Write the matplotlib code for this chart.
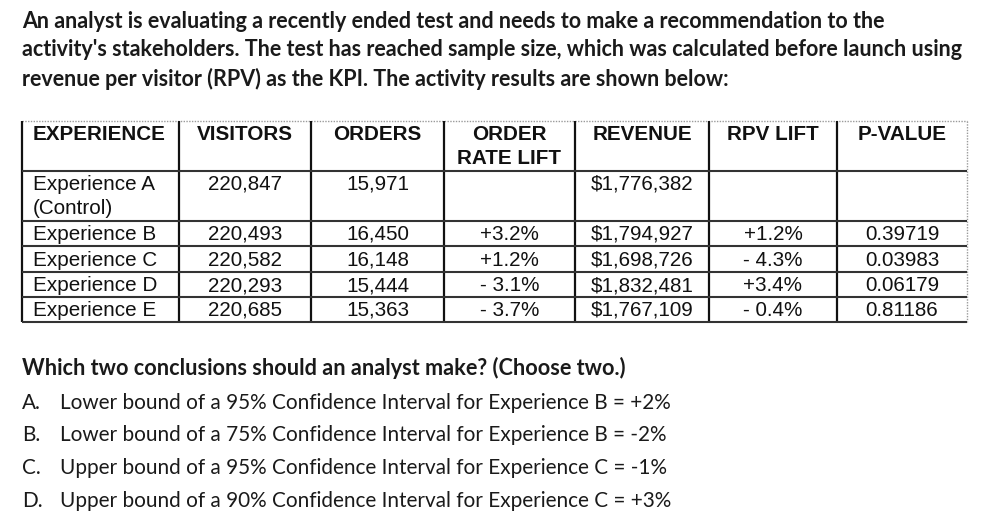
"""
Recreates the A/B test question card: intro text, results table, answer options.
Saves out.png (998x526).
"""

import matplotlib
matplotlib.use("Agg")
import matplotlib.pyplot as plt

# --- Data ---
intro_lines = [
    "An analyst is evaluating a recently ended test and needs to make a recommendation to the",
    "activity's stakeholders. The test has reached sample size, which was calculated before launch using",
    "revenue per visitor (RPV) as the KPI. The activity results are shown below:",
]

headers = ["EXPERIENCE", "VISITORS", "ORDERS", "ORDER\nRATE LIFT", "REVENUE", "RPV LIFT", "P-VALUE"]

experiences = ["Experience A\n(Control)", "Experience B", "Experience C", "Experience D", "Experience E"]
visitors = ["220,847", "220,493", "220,582", "220,293", "220,685"]
orders = ["15,971", "16,450", "16,148", "15,444", "15,363"]
order_rate_lift = ["", "+3.2%", "+1.2%", "- 3.1%", "- 3.7%"]
revenue = ["$1,776,382", "$1,794,927", "$1,698,726", "$1,832,481", "$1,767,109"]
rpv_lift = ["", "+1.2%", "- 4.3%", "+3.4%", "- 0.4%"]
p_value = ["", "0.39719", "0.03983", "0.06179", "0.81186"]

question = "Which two conclusions should an analyst make? (Choose two.)"
option_letters = ["A.", "B.", "C.", "D."]
option_texts = [
    "Lower bound of a 95% Confidence Interval for Experience B = +2%",
    "Lower bound of a 75% Confidence Interval for Experience B = -2%",
    "Upper bound of a 95% Confidence Interval for Experience C = -1%",
    "Upper bound of a 90% Confidence Interval for Experience C = +3%",
]

# --- Layout (pixels) ---
W, H = 998, 526
COL_EDGES = [22, 179, 311, 444, 575, 709, 837, 967]
ROW_EDGES = [121, 171, 221, 246, 272, 297, 322]
TXT = "#1a1a1a"

fig = plt.figure(figsize=(W / 100, H / 100), dpi=100)
ax = fig.add_axes([0, 0, 1, 1])
ax.set_xlim(0, W)
ax.set_ylim(H, 0)
ax.axis("off")
renderer = fig.canvas.get_renderer()


def fit_width(t, target_px):
    """Rescale a text object's font size so it spans target_px."""
    w = t.get_window_extent(renderer).width
    t.set_fontsize(t.get_fontsize() * target_px / w)
    return t.get_fontsize()


# intro paragraph
t = ax.text(22, 50, intro_lines[1], fontsize=15, family="Lato", weight="bold",
            color=TXT, va="center", ha="left")
fs = fit_width(t, 967 - 22)
t.remove()
for line, yc in zip(intro_lines, [22, 50, 79]):
    ax.text(22, yc, line, fontsize=fs, family="Lato", weight="bold",
            color=TXT, va="center", ha="left")

# table grid
x0, x1 = COL_EDGES[0], COL_EDGES[-1]
y0, y1 = ROW_EDGES[0], ROW_EDGES[-1]
ax.hlines(y0, x0, x1, colors="#9a9a9a", linewidth=1, linestyles=(0, (1, 1)))
ax.vlines(x1, y0, y1, colors="#9a9a9a", linewidth=1, linestyles=(0, (1, 1)))
ax.vlines(COL_EDGES[:-1], y0, y1, colors="#111111", linewidth=1.6)
ax.hlines(ROW_EDGES[1:], x0, x1, colors="#333333", linewidth=1.5)

col_centers = [(a + b) / 2 for a, b in zip(COL_EDGES[:-1], COL_EDGES[1:])]
TABLE_FONT = "Liberation Sans"
FS_TAB = 14.9

# headers
for i, h in enumerate(headers):
    if i == 0:
        ax.text(33, 134, h, fontsize=FS_TAB, family=TABLE_FONT, weight="bold",
                color="#111111", va="center", ha="left")
    else:
        for k, part in enumerate(h.split("\n")):
            ax.text(col_centers[i], 134 + 24 * k, part, fontsize=FS_TAB,
                    family=TABLE_FONT, weight="bold", color="#111111",
                    va="center", ha="center")

# body rows
columns = [experiences, visitors, orders, order_rate_lift, revenue, rpv_lift, p_value]
for r in range(len(experiences)):
    ytop, ybot = ROW_EDGES[r + 1], ROW_EDGES[r + 2]
    yc = ytop + 13.5 if r == 0 else (ytop + ybot) / 2 + 1
    for c, col in enumerate(columns):
        val = col[r]
        if not val:
            continue
        if c == 0:
            for k, part in enumerate(val.split("\n")):
                ax.text(33, yc + 24 * k, part, fontsize=FS_TAB, family=TABLE_FONT,
                        color="#111111", va="center", ha="left")
        else:
            ax.text(col_centers[c], yc, val, fontsize=FS_TAB, family=TABLE_FONT,
                    color="#111111", va="center", ha="center")

# question + options
q = ax.text(22, 368, question, fontsize=14, family="Lato", weight="bold",
            color=TXT, va="center", ha="left")
fit_width(q, 625 - 22)

t = ax.text(60, 501, option_texts[3], fontsize=14, family="Lato",
            color=TXT, va="center", ha="left")
fs_opt = fit_width(t, 673 - 60)
t.remove()
for letter, txt, yc in zip(option_letters, option_texts, [403, 435, 468, 501]):
    ax.text(22, yc, letter, fontsize=fs_opt, family="Lato", color=TXT,
            va="center", ha="left")
    ax.text(60, yc, txt, fontsize=fs_opt, family="Lato", color=TXT,
            va="center", ha="left")

fig.savefig("out.png", dpi=100)
